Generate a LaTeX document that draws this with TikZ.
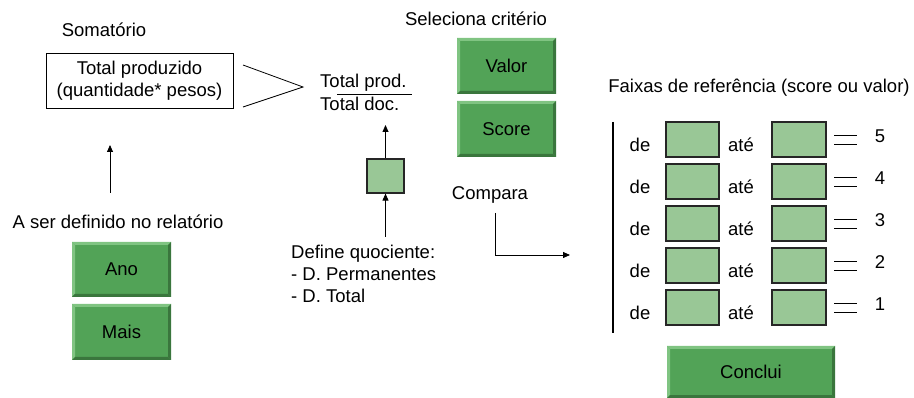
\documentclass[tikz,border=0pt]{standalone}
\usepackage{fontspec}
\setmainfont{Liberation Sans}
\usetikzlibrary{arrows.meta}
\definecolor{btnmain}{RGB}{82,163,87}
\definecolor{btnlight}{RGB}{128,196,130}
\definecolor{btndark}{RGB}{58,118,61}
\definecolor{boxfill}{RGB}{153,199,150}
\tikzset{
  txt/.style={inner sep=0pt, font=\fontsize{18.5}{22}\selectfont},
  btn/.style={txt, fill=btnmain, minimum width=99pt, minimum height=56pt,
    path picture={
      \fill[btnlight] (path picture bounding box.north west) -- (path picture bounding box.north east)
        -- ([shift={(-3pt,-3pt)}]path picture bounding box.north east) -- ([shift={(3pt,-3pt)}]path picture bounding box.north west) -- cycle;
      \fill[btnlight] (path picture bounding box.north west) -- (path picture bounding box.south west)
        -- ([shift={(3pt,3pt)}]path picture bounding box.south west) -- ([shift={(3pt,-3pt)}]path picture bounding box.north west) -- cycle;
      \fill[btndark] (path picture bounding box.south west) -- (path picture bounding box.south east)
        -- ([shift={(-3pt,3pt)}]path picture bounding box.south east) -- ([shift={(3pt,3pt)}]path picture bounding box.south west) -- cycle;
      \fill[btndark] (path picture bounding box.north east) -- (path picture bounding box.south east)
        -- ([shift={(-3pt,3pt)}]path picture bounding box.south east) -- ([shift={(-3pt,-3pt)}]path picture bounding box.north east) -- cycle;
    }},
  gbox/.style={draw=black!85, line width=1.2pt, fill=boxfill, inner sep=0pt},
  thin/.style={line width=0.8pt},
  arr/.style={thin, -{Triangle[length=7pt,width=6pt]}},
}
\begin{document}
\begin{tikzpicture}[x=1pt,y=-1pt]
\useasboundingbox (0,0) rectangle (914,398);

% left part
\node[txt] (som) at (104,30) {Somatório};
\node[txt, draw, thin, minimum width=187pt, minimum height=55pt, align=center] (tp) at (139.5,80.5)
  {Total produzido\\(quantidade* pesos)};
\coordinate (g1) at (243,65);
\coordinate (g2) at (303,87);
\coordinate (g3) at (243,107);
\draw[thin] (g1) -- (g2) -- (g3);

\node[txt, anchor=base west] (fnum) at (320,88) {Total prod.};
\node[txt, anchor=base west] (fden) at (320,111) {Total doc.};
\coordinate (fl1) at (337,94);
\coordinate (fl2) at (412,94);
\draw[thin] (fl1) -- (fl2);

\node[gbox, minimum width=37pt, minimum height=34pt] (sq) at (385.5,176) {};
\coordinate (sqtip) at (385.5,125);
\draw[arr] (sq.north) -- (sqtip);

\node[txt, anchor=north west, align=left] (dq) at (291,245)
  {Define quociente:\\- D. Permanentes\\- D. Total};
\coordinate (dqtop) at (385.5,237);
\draw[arr] (dqtop) -- (sq.south);

\coordinate (la1) at (110,193);
\coordinate (la2) at (110,145);
\draw[arr] (la1) -- (la2);

\node[txt] (asd) at (118,222) {A ser definido no relatório};
\node[btn, minimum height=55pt] (ano) at (121.5,269.5) {Ano};
\node[btn] (mais) at (121.5,332) {Mais};

% middle
\node[txt] (sel) at (476,19) {Seleciona critério};
\node[btn] (valor) at (506.5,66) {Valor};
\node[btn] (score) at (506.5,129) {Score};

\node[txt] (comp) at (490,195) {Compara};
\coordinate (c1) at (495,213);
\coordinate (c2) at (495,255);
\coordinate (c3) at (570,255);
\draw[arr] (c1) -- (c2) -- (c3);

% right
\node[txt] (faixas) at (759,88) {Faixas de referência (score ou valor)};
\coordinate (v1) at (613,122);
\coordinate (v2) at (613,333);
\draw[line width=1.2pt] (v1) -- (v2);

\foreach \i/\n in {0/5,1/4,2/3,3/2,4/1}{
  \pgfmathsetmacro{\t}{122+42*\i}
  \node[txt, anchor=base] (de\i) at (640,\t+30) {de};
  \node[gbox, minimum width=53pt, minimum height=35pt] (a\i) at (692.5,\t+17.5) {};
  \node[txt, anchor=base] (ate\i) at (741,\t+30) {até};
  \node[gbox, minimum width=54pt, minimum height=35pt] (b\i) at (799,\t+17.5) {};
  \coordinate (e\i a) at (834,\t+13);
  \coordinate (e\i b) at (857,\t+13);
  \coordinate (e\i c) at (834,\t+22);
  \coordinate (e\i d) at (857,\t+22);
  \draw[thin] (e\i a) -- (e\i b);
  \draw[thin] (e\i c) -- (e\i d);
  \node[txt, anchor=base] (n\i) at (880,\t+21) {\n};
}

\node[btn, minimum width=168pt, minimum height=52pt] (concl) at (751,372) {Conclui};
\end{tikzpicture}
\end{document}
